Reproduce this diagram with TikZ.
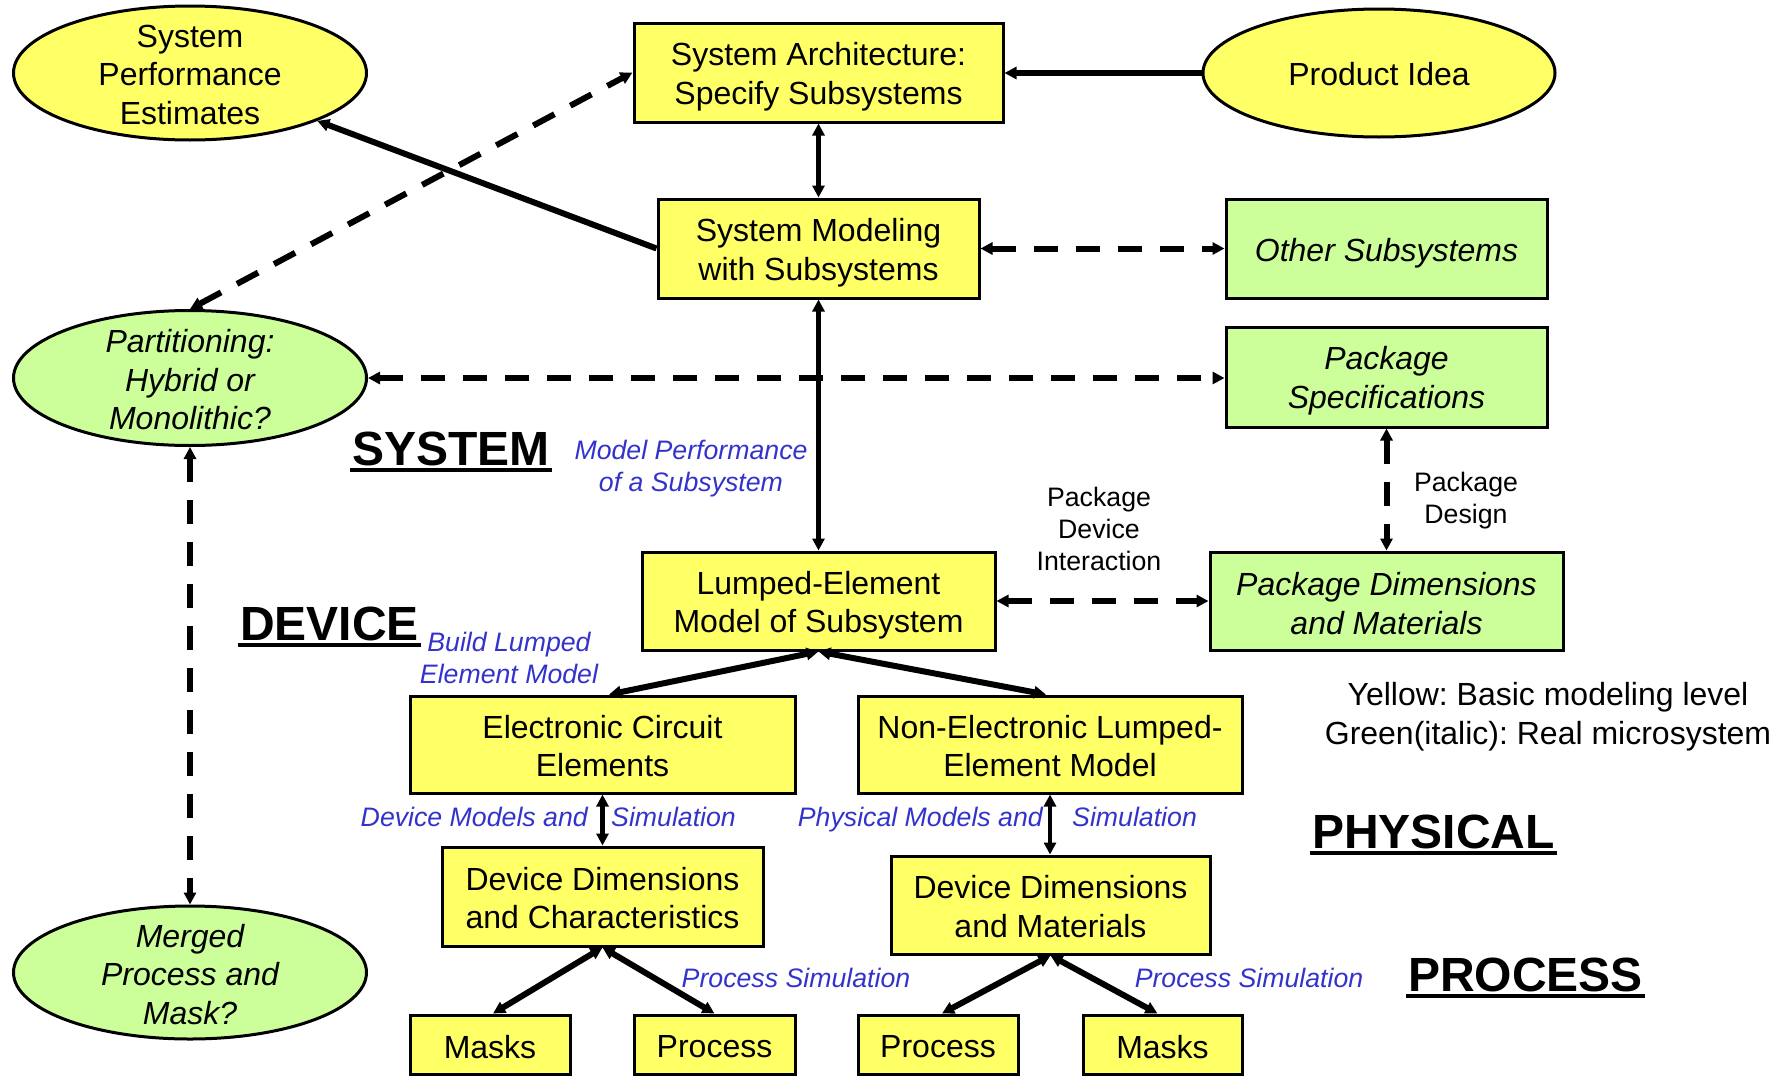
\documentclass[tikz,border=0pt]{standalone}
\usepackage{fontspec}
\setmainfont{Liberation Sans}
\usetikzlibrary{arrows.meta,shapes.geometric,calc}
\definecolor{yfill}{HTML}{FFFF66}
\definecolor{gfill}{HTML}{CCFF99}
\definecolor{bluetxt}{HTML}{3333CC}
\newcommand\mfont{\fontsize{32}{38.5}\selectfont\frenchspacing}
\newcommand\sfont{\fontsize{26.7}{32}\selectfont}
\newcommand\bigfont{\fontsize{48}{50}\selectfont\bfseries}
\begin{document}
\begin{tikzpicture}[x=1pt,y=-1pt,
  >={Triangle[length=12pt,width=12pt]},
  ybox/.style={draw=black, fill=yfill, line width=3pt, inner sep=0pt},
  gbox/.style={draw=black, fill=gfill, line width=3pt, inner sep=0pt},
  yell/.style={draw=black, fill=yfill, line width=3pt, ellipse, inner sep=0pt},
  gell/.style={draw=black, fill=gfill, line width=3pt, ellipse, inner sep=0pt},
  etext/.style={inner sep=0pt, align=center, font=\mfont},
  itext/.style={inner sep=0pt, align=center, font=\mfont\itshape},
  blab/.style={inner sep=0pt, align=center, text=bluetxt, font=\sfont\itshape},
  blk/.style={inner sep=0pt, align=center, font=\sfont},
  legend/.style={inner sep=0pt, align=center, font=\fontsize{32}{39}\selectfont\frenchspacing},
  biglab/.style={inner sep=0pt, anchor=base west, font=\bigfont},
  uline/.style={line width=4pt},
  thickc/.style={line width=6pt},
  medc/.style={line width=4.5pt},
  solidc/.style={line width=6pt},
  dashc/.style={line width=6pt, dash pattern=on 24pt off 18pt}]
\useasboundingbox (0,0) rectangle (1785,1076);
\fill[white] (0,0) rectangle (1785,1076);

% ellipses
\node[yell, minimum width=353pt, minimum height=134pt] (spe) at (190,73) {};
\node[etext] (spet) at (190,74.5) {System\\Performance\\Estimates};
\node[yell, minimum width=352pt, minimum height=128pt] (pi) at (1379,73) {};
\node[etext] (pit) at (1379,74) {Product Idea};
\node[gell, minimum width=353pt, minimum height=135pt] (part) at (190,378) {};
\node[itext] (partt) at (190,380) {Partitioning:\\Hybrid or\\Monolithic?};
\node[gell, minimum width=353pt, minimum height=133pt] (mg) at (190,972.5) {};
\node[itext] (mgt) at (190,974.5) {Merged\\Process and\\Mask?};

% boxes
\node[ybox, minimum width=369pt, minimum height=99pt] (sa) at (818.5,72.5) {};
\node[etext] (sat) at (818.5,76.5) {System Architecture:\\Specify Subsystems};
\node[ybox, minimum width=321pt, minimum height=99pt] (sm) at (818.5,248.5) {};
\node[etext] (smt) at (818.5,252.5) {System Modeling\\with Subsystems};
\node[gbox, minimum width=321pt, minimum height=99pt] (os) at (1386.5,248.5) {};
\node[itext] (ost) at (1386.5,253) {Other Subsystems};
\node[gbox, minimum width=321pt, minimum height=100pt] (ps) at (1386.5,377) {};
\node[itext] (pst) at (1386.5,380.5) {Package\\Specifications};
\node[ybox, minimum width=353pt, minimum height=98pt] (lm) at (818.5,601) {};
\node[etext] (lmt) at (818.5,605) {Lumped-Element\\Model of Subsystem};
\node[gbox, minimum width=353pt, minimum height=98pt] (pd) at (1386.5,601) {};
\node[itext] (pdt) at (1386.5,603.5) {Package Dimensions\\and Materials};
\node[ybox, minimum width=385pt, minimum height=97pt] (ec) at (602.5,744.5) {};
\node[etext] (ect) at (602.5,746) {Electronic Circuit\\Elements};
\node[ybox, minimum width=384pt, minimum height=97pt] (ne) at (1050,744.5) {};
\node[etext] (net) at (1050,746) {Non-Electronic Lumped-\\Element Model};
\node[ybox, minimum width=321pt, minimum height=99pt] (ddc) at (602.5,896.5) {};
\node[etext] (ddct) at (602.5,898) {Device Dimensions\\and Characteristics};
\node[ybox, minimum width=319pt, minimum height=98pt] (ddm) at (1050.5,905) {};
\node[etext] (ddmt) at (1050.5,906.5) {Device Dimensions\\and Materials};
\node[ybox, minimum width=160pt, minimum height=59pt] (m1) at (490,1044.5) {};
\node[etext] (m1t) at (490,1047) {Masks};
\node[ybox, minimum width=161pt, minimum height=59pt] (p2) at (714.5,1044.5) {};
\node[etext] (p2t) at (714.5,1047) {Process};
\node[ybox, minimum width=160pt, minimum height=59pt] (p3) at (938,1044.5) {};
\node[etext] (p3t) at (938,1047) {Process};
\node[ybox, minimum width=159pt, minimum height=59pt] (m4) at (1162.5,1044.5) {};
\node[etext] (m4t) at (1162.5,1047) {Masks};

% labels
\node[biglab] (lsys) at (352,465) {SYSTEM};
\draw[uline] ([xshift=-2pt,yshift=-5pt]lsys.base west) -- ([xshift=2pt,yshift=-5pt]lsys.base east);
\node[biglab] (ldev) at (240,640) {DEVICE};
\draw[uline] ([xshift=-2pt,yshift=-5pt]ldev.base west) -- ([xshift=2pt,yshift=-5pt]ldev.base east);
\node[biglab] (lphy) at (1312,848) {PHYSICAL};
\draw[uline] ([xshift=-2pt,yshift=-5pt]lphy.base west) -- ([xshift=2pt,yshift=-5pt]lphy.base east);
\node[biglab] (lpro) at (1408,991) {PROCESS};
\draw[uline] ([xshift=-2pt,yshift=-5pt]lpro.base west) -- ([xshift=2pt,yshift=-5pt]lpro.base east);

\node[blab] (mp) at (691,468.5) {Model Performance\\of a Subsystem};
\node[blab] (bl) at (509,658) {Build Lumped\\Element Model};
\node[blab, anchor=base east] (dma) at (588,826.7) {Device Models and};
\node[blab, anchor=base west] (sim1) at (611,826.7) {Simulation};
\node[blab, anchor=base east] (pma) at (1043,826.7) {Physical Models and};
\node[blab, anchor=base west] (sim2) at (1072,826.7) {Simulation};
\node[blab] (psl) at (796,978) {Process Simulation};
\node[blab] (psr) at (1249,978) {Process Simulation};

\node[blk] (pdi) at (1099,529) {Package\\Device\\Interaction};
\node[blk] (pdes) at (1466,500.5) {Package\\Design};
\node[legend] (leg) at (1548,716.5) {Yellow: Basic modeling level\\Green(italic): Real microsystem};

% connectors
\draw[solidc, ->] (pi.west) -- (pi.west -| sa.east);
\draw[medc, <->] (sa) -- (sm);
\draw[thickc, ->] (sm.west) -- (spe);
\draw[dashc, <->] (part.north) -- (sa.west);
\draw[dashc, <->] (sm) -- (os);
\draw[dashc, <->] (part.east) -- (part.east -| ps.west);
\draw[medc, <->] (sm) -- (lm);
\draw[dashc, <->] (ps) -- (pd);
\draw[dashc, <->] (lm) -- (pd);
\draw[dashc, <->] (part) -- (mg);
\draw[thickc, <->] (lm.south) -- ([xshift=6.5pt]ec.north);
\draw[thickc, <->] (lm.south) -- ([xshift=-4pt]ne.north);
\draw[medc, <->] (ec) -- (ddc);
\draw[medc, <->] (ne.south) -- (ne.south |- ddm.north);
\draw[thickc, <->] (ddc.south) -- ([xshift=3pt]m1.north);
\draw[thickc, <->] (ddc.south) -- (p2.north);
\draw[thickc, <->] (ddm.south) -- ([xshift=4pt]p3.north);
\draw[thickc, <->] (ddm.south) -- ([xshift=-5pt]m4.north);
\end{tikzpicture}
\end{document}
